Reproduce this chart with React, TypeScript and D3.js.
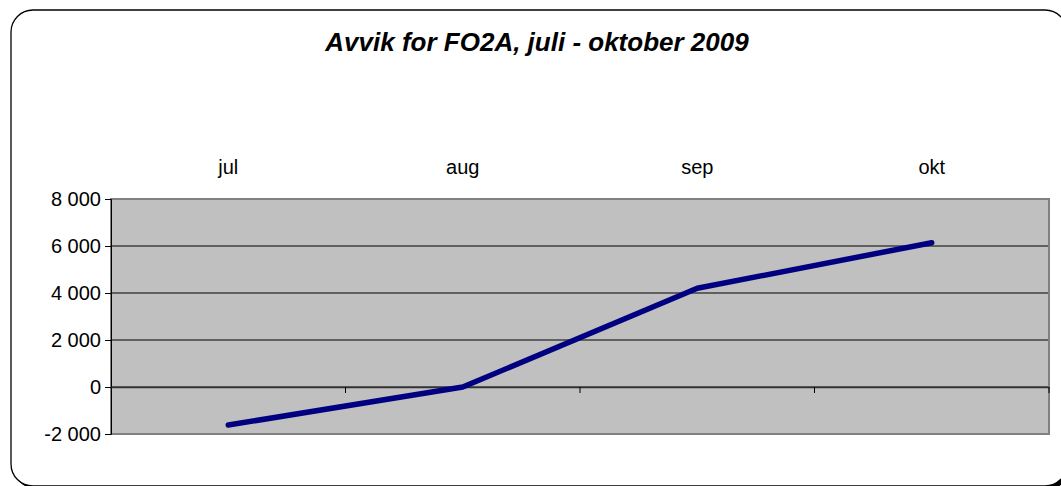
import * as d3 from "d3";
import { useEffect, useRef } from "react";

const months = ["jul", "aug", "sep", "okt"];
const deviation = [-1620, 0, 4200, 6140];
const yTicks = [-2000, 0, 2000, 4000, 6000, 8000];
const title = "Avvik for FO2A, juli - oktober 2009";

const App = () => {
  const ref = useRef<SVGSVGElement>(null);

  useEffect(() => {
    const svg = d3.select(ref.current);
    svg.selectAll("*").remove();

    const left = 111, right = 1049, top = 199, bottom = 434;
    const font = "'Liberation Sans', Arial, sans-serif";

    // outer frame with a small shadow, runs off the right/bottom edge
    svg.append("rect")
      .attr("x", 14).attr("y", 13)
      .attr("width", 1056).attr("height", 476)
      .attr("rx", 22).attr("ry", 22)
      .attr("fill", "black");
    svg.append("rect")
      .attr("x", 11).attr("y", 10)
      .attr("width", 1056).attr("height", 476)
      .attr("rx", 22).attr("ry", 22)
      .attr("fill", "white")
      .attr("stroke", "black")
      .attr("stroke-width", 1.3);

    svg.append("text")
      .attr("x", 537).attr("y", 51)
      .attr("text-anchor", "middle")
      .style("font-family", font)
      .style("font-size", "26px")
      .style("font-weight", "bold")
      .style("font-style", "italic")
      .text(title);

    const x = d3.scaleBand().domain(months).range([left, right]);
    const y = d3.scaleLinear().domain([-2000, 8000]).range([bottom, top]);

    svg.append("rect")
      .attr("x", left).attr("y", top)
      .attr("width", right - left).attr("height", bottom - top)
      .attr("fill", "#c0c0c0");

    // gridlines
    svg.append("g")
      .selectAll("line")
      .data(yTicks.filter((d) => d !== -2000 && d !== 8000))
      .enter()
      .append("line")
      .attr("x1", left).attr("x2", right)
      .attr("y1", (d) => y(d)).attr("y2", (d) => y(d))
      .attr("stroke", "black")
      .attr("stroke-width", 1);

    svg.append("rect")
      .attr("x", left).attr("y", top)
      .attr("width", right - left).attr("height", bottom - top)
      .attr("fill", "none")
      .attr("stroke", "#808080")
      .attr("stroke-width", 2);

    // y axis
    const yAxis = svg.append("g")
      .attr("transform", `translate(${left},0)`)
      .call(d3.axisLeft(y).tickValues(yTicks).tickSize(6).tickPadding(4)
        .tickFormat((d) => {
          const v = d as number;
          return (v < 0 ? "-" : "") + d3.format(",")(Math.abs(v)).replace(/,/g, " ");
        }));
    yAxis.select(".domain").attr("stroke", "black").attr("stroke-width", 1);
    yAxis.selectAll("text")
      .style("font-family", font)
      .style("font-size", "20px")
      .attr("fill", "black");

    // category axis at zero
    const xAxis = svg.append("g")
      .attr("transform", `translate(0,${y(0)})`)
      .call(d3.axisBottom(x).tickSize(0).tickFormat(() => ""));
    xAxis.select(".domain").attr("stroke", "#333").attr("stroke-width", 1.3);
    svg.append("g")
      .selectAll("line")
      .data(months.slice(1).concat(["end"]))
      .enter()
      .append("line")
      .attr("x1", (d, i) => left + x.step() * (i + 1))
      .attr("x2", (d, i) => left + x.step() * (i + 1))
      .attr("y1", y(0)).attr("y2", y(0) + 6)
      .attr("stroke", "black");

    // month labels above the plot
    svg.append("g")
      .selectAll("text")
      .data(months)
      .enter()
      .append("text")
      .attr("x", (d) => x(d)! + x.bandwidth() / 2)
      .attr("y", 174)
      .attr("text-anchor", "middle")
      .style("font-family", font)
      .style("font-size", "20px")
      .text((d) => d);

    const line = d3.line<number>()
      .x((d, i) => x(months[i])! + x.bandwidth() / 2)
      .y((d) => y(d));

    svg.append("path")
      .datum(deviation)
      .attr("d", line)
      .attr("fill", "none")
      .attr("stroke", "#000080")
      .attr("stroke-width", 5.5)
      .attr("stroke-linecap", "round")
      .attr("stroke-linejoin", "round");
  }, []);

  return (
    <svg ref={ref} width={1061} height={486}
      style={{ position: "absolute", left: 0, top: 0 }} />
  );
};

export default App;
